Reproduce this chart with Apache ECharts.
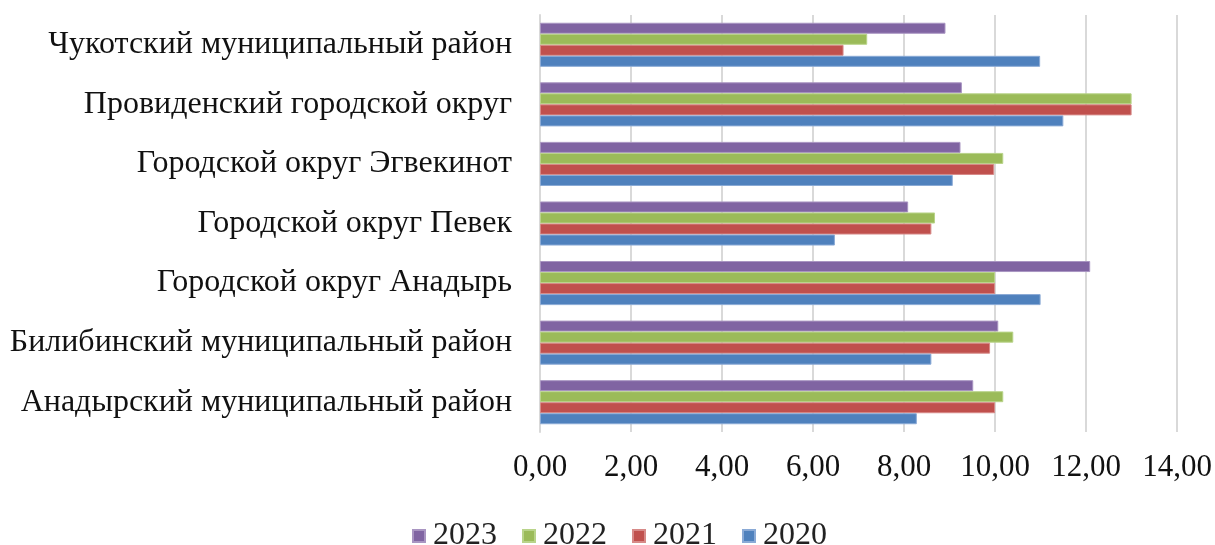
<!DOCTYPE html>
<html>
<head>
<meta charset="utf-8">
<script src="https://cdn.jsdelivr.net/npm/echarts@6/dist/echarts.min.js"></script>
<style>
html,body{margin:0;padding:0;background:#fff;}
#chart{width:1215px;height:545px;}
</style>
</head>
<body>
<div id="chart"></div>
<script>
const categories = [
  'Анадырский муниципальный район',
  'Билибинский муниципальный район',
  'Городской округ Анадырь',
  'Городской округ Певек',
  'Городской округ Эгвекинот',
  'Провиденский городской округ',
  'Чукотский муниципальный район'
];
const seriesNames = ['2023', '2022', '2021', '2020'];
const values2023 = [9.52, 10.07, 12.09, 8.09, 9.24, 9.27, 8.91];
const values2022 = [10.18, 10.40, 10.00, 8.68, 10.18, 13.00, 7.19];
const values2021 = [10.00, 9.89, 10.00, 8.60, 9.98, 13.00, 6.67];
const values2020 = [8.28, 8.60, 11.00, 6.48, 9.07, 11.50, 10.99];
const xTicks = { min: 0, max: 14, interval: 2 };

const colors = ['#8064A2', '#9BBB59', '#C0504D', '#4F81BD'];
const borders = ['#a995c2', '#b9d48a', '#d78a88', '#8aaad6'];
const dataList = [values2023, values2022, values2021, values2020];
const font = '"Liberation Serif", "Times New Roman", serif';

const chart = echarts.init(document.getElementById('chart'), null, { renderer: 'canvas' });
chart.setOption({
  animation: false,
  color: colors,
  grid: { left: 540, right: 36, top: 15, bottom: 113, containLabel: false },
  legend: {
    data: seriesNames,
    top: 515,
    left: 407,
    itemWidth: 12,
    itemHeight: 12,
    itemGap: 25,
    icon: 'rect',
    textStyle: { fontFamily: font, fontSize: 32, color: '#222', padding: [0, 0, 0, 3] }
  },
  xAxis: {
    type: 'value',
    min: xTicks.min, max: xTicks.max, interval: xTicks.interval,
    axisLine: { show: false },
    axisTick: { show: false },
    splitLine: { lineStyle: { color: '#d9d9d9', width: 2 } },
    axisLabel: {
      margin: 20,
      fontFamily: font, fontSize: 31, color: '#111',
      formatter: v => v.toFixed(2).replace('.', ',')
    }
  },
  yAxis: {
    type: 'category',
    data: categories,
    axisLine: { show: true, lineStyle: { color: '#d9d9d9', width: 2 } },
    axisTick: { show: false },
    axisLabel: {
      margin: 28,
      fontFamily: font, fontSize: 32, color: '#111'
    }
  },
  series: seriesNames.map((name, i) => ({
    name: name,
    type: 'bar',
    data: dataList[i],
    barGap: '0%',
    barCategoryGap: '26%',
    itemStyle: { color: colors[i], borderColor: borders[i], borderWidth: 1 }
  }))
});
</script>
</body>
</html>
